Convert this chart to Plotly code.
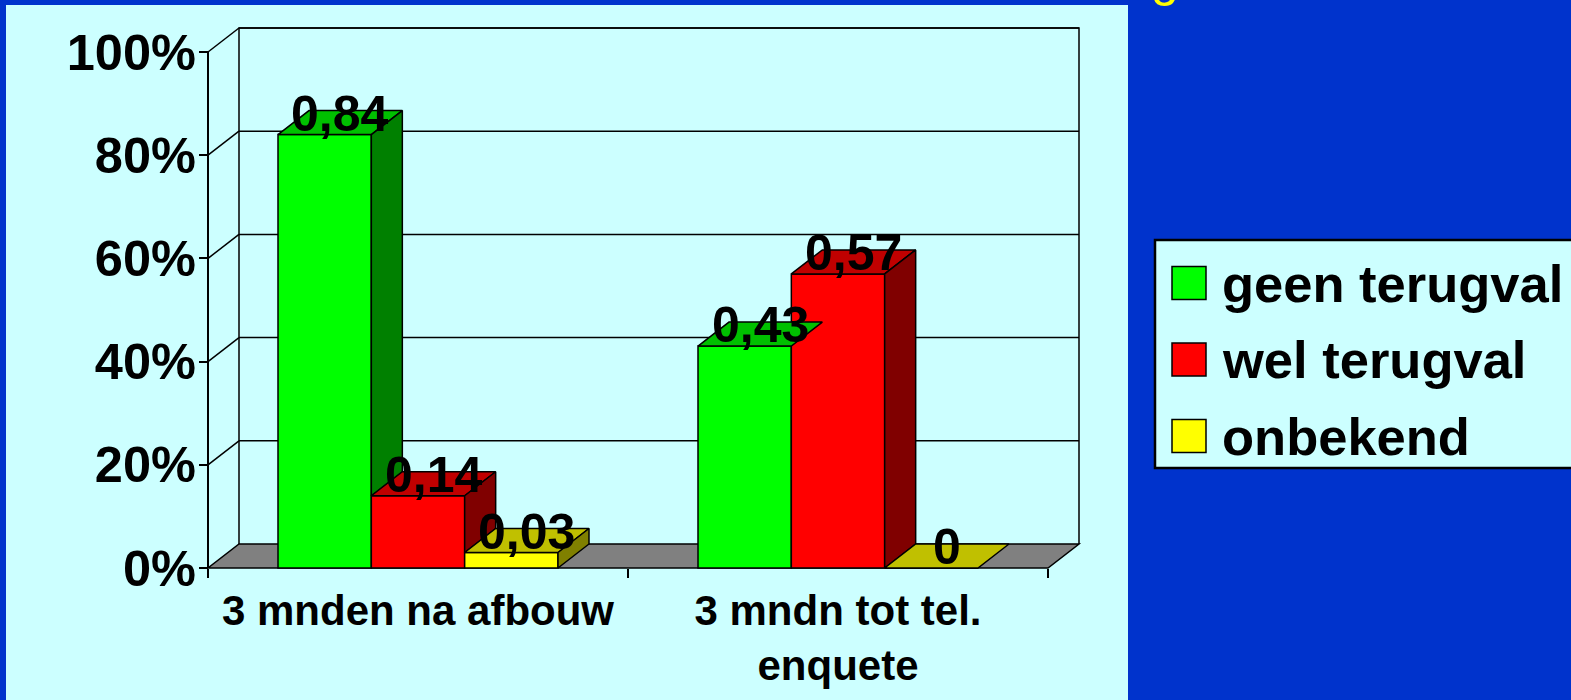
import plotly.graph_objects as go

# ---- data -------------------------------------------------------------
categories = ["3 mnden na afbouw", "3 mndn tot tel.<br>enquete"]
series_names = ["geen terugval", "wel terugval", "onbekend"]
geen_terugval = [0.84, 0.43]
wel_terugval = [0.14, 0.57]
onbekend = [0.03, 0.0]
series_values = [geen_terugval, wel_terugval, onbekend]
y_ticks = [0, 0.2, 0.4, 0.6, 0.8, 1.0]
title_text = "De terugval na afbouw van de medicatie"

# ---- styling ----------------------------------------------------------
FONT = "Liberation Sans, Arial, sans-serif"
BLUE = "#0033CC"
PANEL = "#CCFFFF"
FRONT = ["#00FF00", "#FF0000", "#FFFF00"]
TOP = ["#00C000", "#C00000", "#C0C000"]
SIDE = ["#008000", "#800000", "#808000"]
FLOOR = "#808080"

W, H = 1571, 700
ML, MR, MT, MB = 200, W - 1090, 20, H - 575
PW, PH = W - ML - MR, H - MT - MB

Y0_PX, PX_PER_UNIT = 568, 516          # value axis: 0 at 568px, 1.0 per 516px
X0_PX, PX_PER_CAT = 208, 420           # left edge of the front plane, category width
DEPTH_X, DEPTH_Y = 31 / PX_PER_CAT, 24 / PX_PER_UNIT   # 3-D depth offset

BAR_GAP = 1 / 3
BAR_W = (1 - BAR_GAP) / len(series_names)


def px_to_cat(px):
    return (px - X0_PX) / PX_PER_CAT - 0.5


def px_to_val(py):
    return (Y0_PX - py) / PX_PER_UNIT


def paper_x(px):
    return (px - ML) / PW


def paper_y(py):
    return (MT + PH - py) / PH


fig = go.Figure()

# front faces of the bars
for k, name in enumerate(series_names):
    fig.add_trace(go.Bar(
        x=list(range(len(categories))), y=series_values[k], name=name,
        marker=dict(color=FRONT[k], line=dict(color="black", width=1.5)),
        showlegend=False, hoverinfo="skip",
    ))


def face(xs, ys, color):
    fig.add_trace(go.Scatter(
        x=xs + [xs[0]], y=ys + [ys[0]], mode="lines", fill="toself",
        fillcolor=color, line=dict(color="black", width=1.5),
        showlegend=False, hoverinfo="skip",
    ))


# top and side faces (side faces only where not hidden by the next bar)
annotations = []
for c in range(len(categories)):
    for k in range(len(series_names)):
        v = series_values[k][c]
        left = c - (1 - BAR_GAP) / 2 + k * BAR_W
        right = left + BAR_W
        face([left, right, right + DEPTH_X, left + DEPTH_X],
             [v, v, v + DEPTH_Y, v + DEPTH_Y], TOP[k])
        h0 = min(v, series_values[k + 1][c]) if k + 1 < len(series_names) else 0
        if v > h0:
            face([right, right, right + DEPTH_X, right + DEPTH_X],
                 [h0, v, v + DEPTH_Y, h0 + DEPTH_Y], SIDE[k])
        label = f"{v:g}".replace(".", ",")
        annotations.append(dict(
            x=(left + right) / 2 + DEPTH_X / 2, y=v, xref="x", yref="y",
            text=f"<b>{label}</b>", showarrow=False, yshift=21,
            font=dict(family=FONT, size=50, color="black"),
        ))

# ---- walls, floor and gridlines ---------------------------------------
shapes = []
# slide panel
shapes.append(dict(type="rect", xref="paper", yref="paper", layer="below",
                   x0=paper_x(6), x1=paper_x(1128), y0=paper_y(710), y1=paper_y(5),
                   fillcolor=PANEL, line=dict(width=0)))

xl, xr = -0.5, len(categories) - 0.5
line_k = dict(color="black", width=1.5)
# floor
shapes.append(dict(type="path", xref="x", yref="y", layer="below",
                   path=f"M{xl},0 L{xr},0 L{xr + DEPTH_X},{DEPTH_Y} L{xl + DEPTH_X},{DEPTH_Y} Z",
                   fillcolor=FLOOR, line=line_k))
# back wall outline
shapes.append(dict(type="path", xref="x", yref="y", layer="below",
                   path=(f"M{xl + DEPTH_X},{DEPTH_Y} L{xl + DEPTH_X},{1 + DEPTH_Y} "
                         f"L{xr + DEPTH_X},{1 + DEPTH_Y} L{xr + DEPTH_X},{DEPTH_Y}"),
                   line=line_k))
for t in y_ticks[1:]:
    # gridline on the back wall
    shapes.append(dict(type="line", xref="x", yref="y", layer="below",
                       x0=xl + DEPTH_X, x1=xr + DEPTH_X, y0=t + DEPTH_Y, y1=t + DEPTH_Y,
                       line=line_k))
    # gridline on the side wall
    shapes.append(dict(type="line", xref="x", yref="y", layer="below",
                       x0=xl, x1=xl + DEPTH_X, y0=t, y1=t + DEPTH_Y, line=line_k))
# front value axis line
shapes.append(dict(type="line", xref="x", yref="y", layer="below",
                   x0=xl, x1=xl, y0=0, y1=1, line=dict(color="black", width=2)))

# ---- legend -------------------------------------------------------------
shapes.append(dict(type="rect", xref="paper", yref="paper",
                   x0=paper_x(1155), x1=paper_x(1590), y0=paper_y(468), y1=paper_y(240),
                   fillcolor=PANEL, line=dict(color="black", width=2.5)))
row_y = [283, 359.5, 436]
for k, name in enumerate(series_names):
    shapes.append(dict(type="rect", xref="paper", yref="paper",
                       x0=paper_x(1172), x1=paper_x(1206),
                       y0=paper_y(row_y[k] + 16.5), y1=paper_y(row_y[k] - 16.5),
                       fillcolor=FRONT[k], line=dict(color="black", width=1.5)))
    annotations.append(dict(
        x=paper_x(1220), y=paper_y(row_y[k]), xref="paper", yref="paper",
        xanchor="left", yanchor="middle", text=f"<b>{name}</b>", showarrow=False,
        font=dict(family=FONT, size=52.5, color="black"),
    ))

# slide title (runs off the top edge)
annotations.append(dict(
    x=paper_x(985), y=paper_y(9), xref="paper", yref="paper",
    xanchor="left", yanchor="bottom", text=title_text, showarrow=False,
    font=dict(family=FONT, size=50, color="#FFFF00"),
))

fig.update_layout(
    width=W, height=H,
    margin=dict(l=ML, r=MR, t=MT, b=MB),
    paper_bgcolor=BLUE, plot_bgcolor="rgba(0,0,0,0)",
    barmode="group", bargap=BAR_GAP, bargroupgap=0,
    showlegend=False,
    shapes=shapes, annotations=annotations,
    xaxis=dict(
        range=[px_to_cat(ML), px_to_cat(ML + PW)],
        anchor="free", position=(MT + PH - Y0_PX) / PH,
        tickvals=list(range(len(categories))), ticktext=[f"<b>{c}</b>" for c in categories],
        ticks="", showgrid=False, zeroline=False, showline=False,
        tickfont=dict(family=FONT, size=42, color="black"),
        ticklabelstandoff=14,
        minor=dict(ticks="outside", ticklen=9, tickwidth=2, tickcolor="black",
                   tick0=-0.5, dtick=1, showgrid=False),
    ),
    yaxis=dict(
        range=[px_to_val(MT + PH), px_to_val(MT)],
        anchor="free", position=(X0_PX - ML) / PW,
        tickvals=y_ticks, tickformat=".0%",
        ticks="outside", ticklen=9, tickwidth=2, tickcolor="black",
        showgrid=False, zeroline=False, showline=False,
        tickfont=dict(family=FONT, size=50.5, color="black", weight="bold"),
        ticklabelstandoff=-7,
    ),
)

fig.write_html("out.html")
